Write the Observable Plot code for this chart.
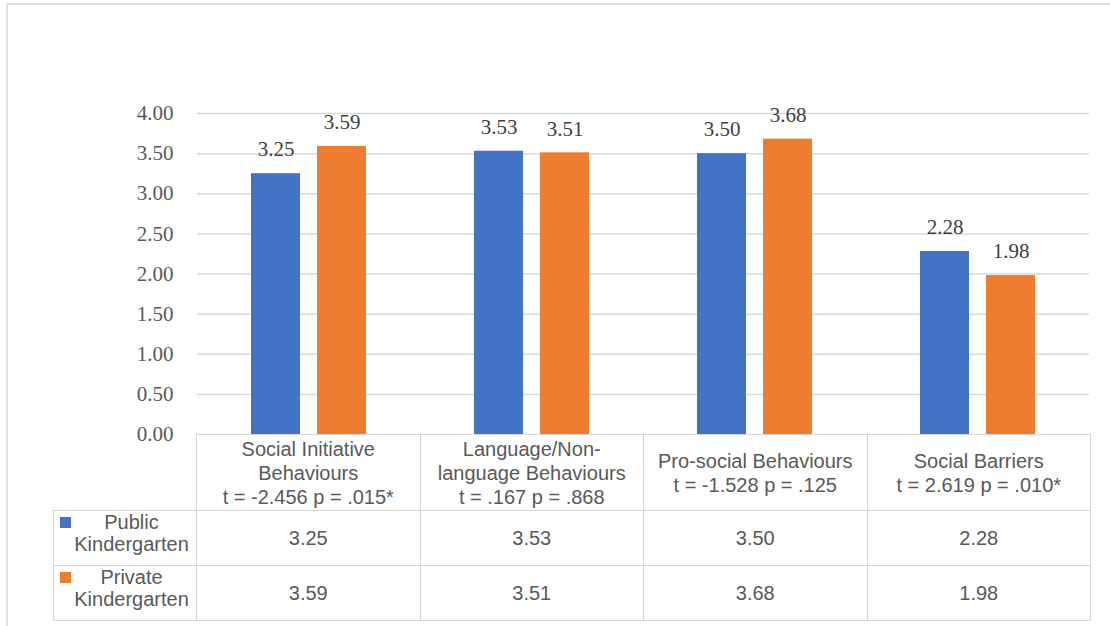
<!DOCTYPE html>
<html>
<head>
<meta charset="utf-8">
<script src="https://cdn.jsdelivr.net/npm/d3@7"></script>
<script src="https://cdn.jsdelivr.net/npm/@observablehq/plot@0.6"></script>
<style>
  html, body { margin: 0; padding: 0; background: #fff; }
  #wrap { position: relative; width: 1110px; height: 626px; overflow: hidden; background: #fff; }
  #frame { position: absolute; left: 6px; top: 3px; width: 1200px; height: 800px;
           border-left: 2px solid #e0e0e0; border-top: 2px solid #e0e0e0; }
  #chart { position: absolute; left: 0; top: 0; }
  table.dt { position: absolute; left: 53px; top: 434px; border-collapse: collapse; table-layout: fixed;
             font-family: "Liberation Sans", Arial, sans-serif; font-size: 20px; color: #595959; }
  table.dt td { border: 1px solid #d6d6d6; text-align: center; vertical-align: middle; padding: 0; }
  table.dt td.corner { border: none; }
  table.dt tr.head td { height: 75px; line-height: 24px; white-space: pre-line; }
  table.dt tr.row td { height: 54px; }
  .leg { display: flex; align-items: flex-start; height: 100%; box-sizing: border-box; padding: 0 4px 0 6px; }
  .key { width: 11px; height: 11px; margin-top: 6px; flex: none; }
  .legtxt { flex: 1; text-align: center; line-height: 22px; white-space: pre-line; }
</style>
</head>
<body>
<div id="wrap">
  <div id="frame"></div>
  <div id="chart"></div>
</div>
<script>
// ---- data ----
const categories = ["Social Initiative\nBehaviours", "Language/Non-\nlanguage Behaviours", "Pro-social Behaviours", "Social Barriers"];
const tStats = ["t = -2.456 p = .015*", "t = .167 p = .868", "t = -1.528 p = .125", "t = 2.619 p = .010*"];
const series = ["Public\nKindergarten", "Private\nKindergarten"];
const publicValues = [3.25, 3.53, 3.50, 2.28];
const privateValues = [3.59, 3.51, 3.68, 1.98];
const yTicks = [0, 0.5, 1, 1.5, 2, 2.5, 3, 3.5, 4];
const colors = ["#4472C4", "#ED7D31"];

const seriesValues = [publicValues, privateValues];
const rows = series.flatMap((s, si) => categories.map((c, ci) => ({category: c, series: s, value: seriesValues[si][ci]})));

const chart = Plot.plot({
  width: 1110,
  height: 626,
  marginLeft: 196,
  marginRight: 20,
  marginTop: 113,
  marginBottom: 192,
  style: {fontFamily: "'Liberation Serif', 'Times New Roman', serif", fontSize: "21px", color: "#595959", background: "transparent"},
  fx: {domain: categories, padding: 0, axis: null},
  x: {domain: series, paddingInner: 0.254, paddingOuter: 0.795, axis: null},
  y: {domain: [0, 4]},
  color: {domain: series, range: colors},
  marks: [
    Plot.gridY(yTicks.slice(1), {stroke: "#d9d9d9", strokeOpacity: 1, strokeWidth: 1.5}),
    Plot.axisY(yTicks, {tickSize: 0, tickPadding: 24, tickFormat: d => d.toFixed(2), fontSize: 21, label: null}),
    Plot.barY(rows, {fx: "category", x: "series", y: "value", fill: "series"}),
    Plot.text(rows, {fx: "category", x: "series", y: "value", text: d => d.value.toFixed(2), dy: -24, fill: "#404040", fontSize: 21})
  ]
});
document.getElementById("chart").appendChild(chart);

// ---- data table below the axis ----
const wrap = d3.select("#wrap");
const table = wrap.append("table").attr("class", "dt");
const cg = table.append("colgroup");
cg.append("col").style("width", "143px");
categories.forEach(() => cg.append("col").style("width", "223.5px"));
const head = table.append("tr").attr("class", "head");
head.append("td").attr("class", "corner");
categories.forEach((c, i) => head.append("td").text(c + "\n" + tStats[i]));
series.forEach((s, si) => {
  const tr = table.append("tr").attr("class", "row");
  const lc = tr.append("td").append("div").attr("class", "leg");
  lc.append("div").attr("class", "key").style("background", colors[si]);
  lc.append("div").attr("class", "legtxt").text(s);
  seriesValues[si].forEach(v => tr.append("td").text(v.toFixed(2)));
});
</script>
</body>
</html>
